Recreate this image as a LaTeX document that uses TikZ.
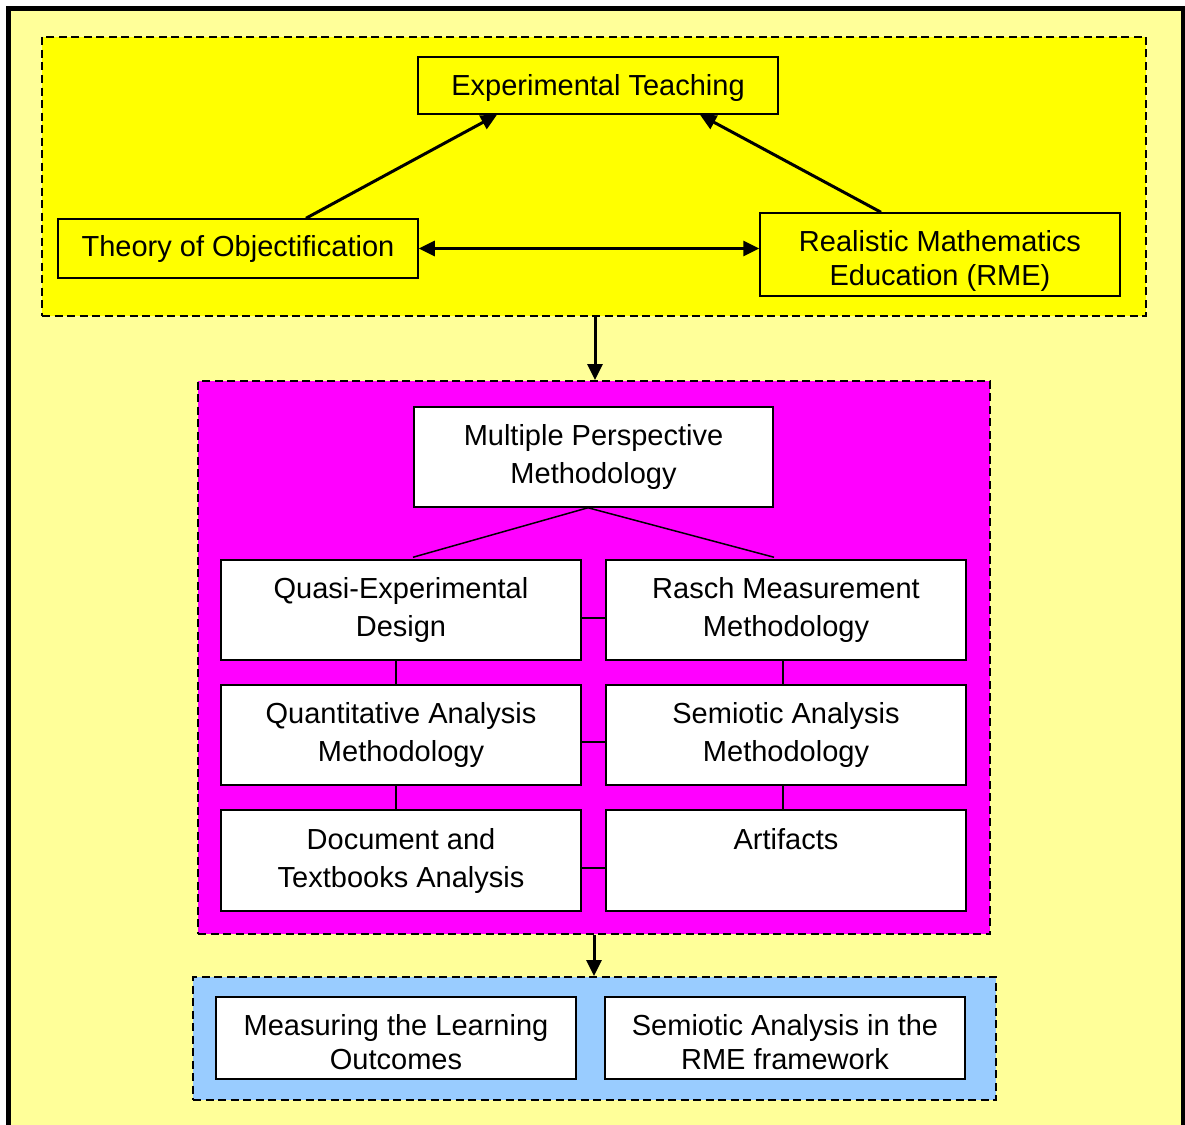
\documentclass[tikz,border=0pt]{standalone}
\usepackage{fontspec}
\setmainfont{Liberation Sans}
\usetikzlibrary{arrows.meta}
\definecolor{paleyellow}{HTML}{FFFF99}
\definecolor{brightyellow}{HTML}{FFFF00}
\definecolor{magentafill}{HTML}{FF00FF}
\definecolor{skyfill}{HTML}{99CCFF}
% set a centred block of lines a little lower without changing the box size
\newcommand{\lowered}[2]{\raisebox{-#1}[\height][\depth]{\begin{tabular}{@{}c@{}}#2\end{tabular}}}
\begin{document}
\begin{tikzpicture}[x=1pt,y=-1pt,
  group/.style={draw=black, line width=2pt, dash pattern=on 8pt off 4.5pt, inner sep=0pt},
  box/.style={draw=black, line width=1.5pt, inner sep=0pt, align=center, minimum width=360pt,
              font=\fontsize{29}{34}\selectfont},
  wbox/.style={box, fill=white, font=\fontsize{29}{38}\selectfont},
  ybox/.style={box, fill=brightyellow},
  arr/.style={line width=3pt, -{Triangle[length=16pt,width=15pt]}},
  darr/.style={line width=3pt, {Triangle[length=16pt,width=15pt]}-{Triangle[length=16pt,width=15pt]}},
  link/.style={line width=1.5pt}]
\useasboundingbox (0,0) rectangle (1185,1124);

% page frame
\begin{scope}
  \clip (0,0) rectangle (1185,1124);
  \fill[white] (0,0) rectangle (1185,1124);
  \draw[line width=5pt, fill=paleyellow] (8,9) rectangle (1183.5,1140);
\end{scope}

% grouping panels
\node[group, fill=brightyellow, minimum width=1104pt, minimum height=279pt] (g1) at (594,176.5) {};
\node[group, fill=magentafill, minimum width=792pt, minimum height=553pt] (g2) at (594,657.5) {};
\node[group, fill=skyfill, minimum width=803pt, minimum height=123pt] (g3) at (594.5,1038.5) {};

% theoretical framework
\node[ybox, minimum height=57pt] (et) at (598,85.5) {\lowered{3pt}{Experimental Teaching}};
\node[ybox, minimum height=59pt] (to) at (238,248.5) {\lowered{1pt}{Theory of Objectification}};
\node[ybox, minimum height=83pt] (rme) at (940,254.5) {\lowered{7pt}{Realistic Mathematics\\Education (RME)}};

\draw[arr] ([xshift=68pt]to.north) -- ([xshift=-101pt]et.south);
\draw[arr] ([xshift=-59pt]rme.north) -- ([xshift=102pt]et.south);
\draw[darr] (to.east) -- (to.east -| rme.west);

% methodology
\node[wbox, minimum width=359pt, minimum height=100pt] (mpm) at (593.5,457) {Multiple Perspective\\Methodology};
\node[wbox, minimum height=100pt] (q)  at (401,610) {Quasi-Experimental\\Design};
\node[wbox, minimum height=100pt] (r)  at (786,610) {Rasch Measurement\\Methodology};
\node[wbox, minimum height=100pt] (qa) at (401,735) {Quantitative Analysis\\Methodology};
\node[wbox, minimum height=100pt] (sa) at (786,735) {Semiotic Analysis\\Methodology};
\node[wbox, minimum height=101pt] (d)  at (401,860.5) {Document and\\Textbooks Analysis};
\node[wbox, minimum height=101pt] (a)  at (786,860.5) {Artifacts\\\phantom{Ty}};

\draw[link] ([xshift=12pt,yshift=2pt]q.north) -- ([xshift=-5.5pt]mpm.south) -- ([xshift=-12pt,yshift=2pt]r.north);
\draw[link] ([yshift=-8pt]q.east) -- ([yshift=-8pt]q.east -| r.west);
\draw[link] ([yshift=-7pt]qa.east) -- ([yshift=-7pt]qa.east -| sa.west);
\draw[link] ([yshift=-7.5pt]d.east) -- ([yshift=-7.5pt]d.east -| a.west);
\draw[link] ([xshift=-5pt]q.south) -- ([xshift=-5pt]qa.north);
\draw[link] ([xshift=-5pt]qa.south) -- ([xshift=-5pt]d.north);
\draw[link] ([xshift=-3pt]r.south) -- ([xshift=-3pt]sa.north);
\draw[link] ([xshift=-3pt]sa.south) -- ([xshift=-3pt]a.north);

% outcomes
\node[box, fill=white, minimum height=82pt] (ml) at (396,1038) {\lowered{8pt}{Measuring the Learning\\Outcomes}};
\node[box, fill=white, minimum height=82pt] (sr) at (785,1038) {\lowered{8pt}{Semiotic Analysis in the\\RME framework}};

% flow between panels
\draw[arr] ([xshift=1pt]g1.south) -- ([xshift=1pt]g2.north);
\draw[arr] (g2.south) -- (g2.south |- g3.north);
\end{tikzpicture}
\end{document}
